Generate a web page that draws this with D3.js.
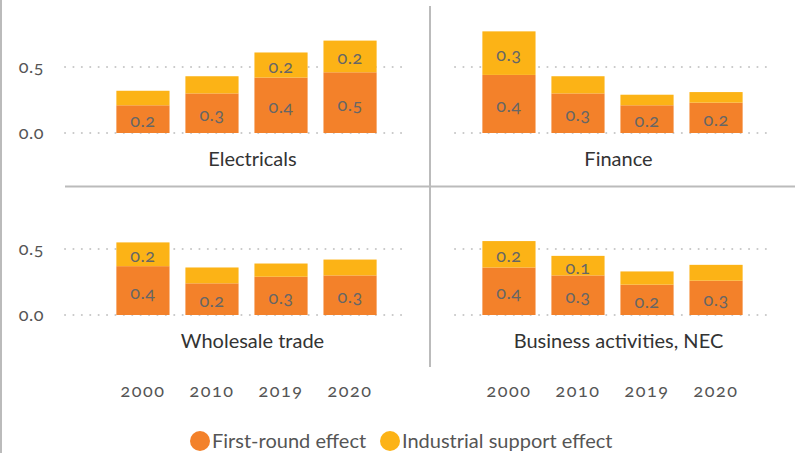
<!DOCTYPE html>
<html>
<head>
<meta charset="utf-8">
<script src="https://cdn.jsdelivr.net/npm/d3@7"></script>
<style>
  body { margin: 0; background: #fff; }
  svg text { font-family: Lato, "Open Sans", sans-serif; font-variant-numeric: oldstyle-nums; }
</style>
</head>
<body>
<svg id="chart" width="804" height="453"></svg>
<script>
// data
const years = ["2000", "2010", "2019", "2020"];
const sectors = ["Electricals", "Finance", "Wholesale trade", "Business activities, NEC"];
const firstRound = [
  [0.21, 0.30, 0.42, 0.46],   // Electricals
  [0.44, 0.30, 0.21, 0.23],   // Finance
  [0.37, 0.24, 0.29, 0.30],   // Wholesale trade
  [0.36, 0.30, 0.23, 0.26]    // Business activities, NEC
];
const support = [
  [0.11, 0.13, 0.19, 0.24],
  [0.33, 0.13, 0.08, 0.08],
  [0.18, 0.12, 0.10, 0.12],
  [0.20, 0.148, 0.10, 0.12]
];
const yTicks = [0, 0.5];
const seriesNames = ["First-round effect", "Industrial support effect"];
const colors = ["#f3812a", "#fcb316"];

const svg = d3.select("#chart");

// frame lines
svg.append("line").attr("x1", 1).attr("x2", 1).attr("y1", 0).attr("y2", 453)
  .attr("stroke", "#bbb").attr("stroke-width", 2);
svg.append("line").attr("x1", 430).attr("x2", 430).attr("y1", 6).attr("y2", 367)
  .attr("stroke", "#bbb").attr("stroke-width", 2);
svg.append("line").attr("x1", 65).attr("x2", 795).attr("y1", 186.5).attr("y2", 186.5)
  .attr("stroke", "#bbb").attr("stroke-width", 2);

const colOffset = [0, 366];
const rowZero = [133, 315];
const labelFmt = d3.format(".1f");

sectors.forEach(function(name, i) {
  const col = i % 2, row = Math.floor(i / 2);
  const dx = colOffset[col];

  var x = d3.scaleBand().domain(years).range([100.5 + dx, 392.5 + dx]).padding(0.23);
  var y = d3.scaleLinear().domain([0, 0.5]).range([rowZero[row], rowZero[row] - 66]);

  const g = svg.append("g");

  // dotted gridlines
  const gx0 = col == 0 ? 65 : 455;
  const gx1 = col == 0 ? 403 : 768;
  g.selectAll("line.grid").data(yTicks).enter().append("line")
    .attr("class", "grid")
    .attr("x1", gx0).attr("x2", gx1)
    .attr("y1", d => y(d)).attr("y2", d => y(d))
    .attr("stroke", "#c8c8c8").attr("stroke-width", 2)
    .attr("stroke-linecap", "round")
    .attr("stroke-dasharray", "0.1,8.3");

  // y tick labels only on left column
  if (col == 0) {
    g.selectAll("text.tick").data(yTicks).enter().append("text")
      .attr("x", 44).attr("y", d => y(d) + 6)
      .attr("text-anchor", "end")
      .attr("font-size", 18).attr("letter-spacing", 0.5).attr("fill", "#555")
      .text(d => d3.format(".1f")(d));
  }

  // stacked bars
  const rows = years.map((yr, j) => ({year: yr, first: firstRound[i][j], support: support[i][j]}));
  const stack = d3.stack().keys(["first", "support"])(rows);

  stack.forEach(function(layer, k) {
    g.selectAll("rect.s" + k).data(layer).enter().append("rect")
      .attr("x", d => x(d.data.year))
      .attr("width", x.bandwidth())
      .attr("y", d => y(d[1]))
      .attr("height", d => y(d[0]) - y(d[1]))
      .attr("fill", colors[k]);

    g.selectAll("text.l" + k).data(layer.filter(d => d[1] - d[0] >= 0.145)).enter().append("text")
      .attr("x", d => x(d.data.year) + x.bandwidth() / 2)
      .attr("y", d => (y(d[0]) + y(d[1])) / 2 + 8)
      .attr("text-anchor", "middle")
      .attr("font-size", 18).attr("letter-spacing", 0.5).attr("fill", "#666")
      .text(d => labelFmt(d[1] - d[0]));
  });

  // panel title
  g.append("text")
    .attr("x", (x.range()[0] + x.range()[1]) / 2 + 6)
    .attr("y", rowZero[row] + 33)
    .attr("text-anchor", "middle")
    .attr("font-size", 20).attr("fill", "#333")
    .text(name);

  // year axis below bottom row
  if (row == 1) {
    g.selectAll("text.year").data(years).enter().append("text")
      .attr("x", d => x(d) + x.bandwidth() / 2)
      .attr("y", 397)
      .attr("text-anchor", "middle")
      .attr("font-size", 18).attr("letter-spacing", 1.5).attr("fill", "#555")
      .text(d => d);
  }
});

// legend
const legendX = [200, 390];
const legend = svg.selectAll("g.legend").data(seriesNames).enter().append("g")
  .attr("transform", (d, i) => "translate(" + legendX[i] + ",441)");
legend.append("circle").attr("r", 10).attr("fill", (d, i) => colors[i]);
legend.append("text").attr("x", 12).attr("y", 7)
  .attr("font-size", 20).attr("fill", "#555")
  .text(d => d);
</script>
</body>
</html>
